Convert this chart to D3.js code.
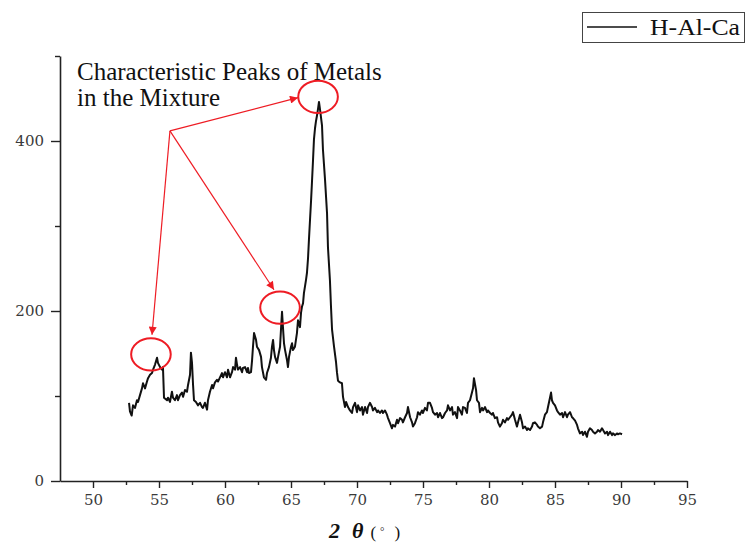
<!DOCTYPE html>
<html>
<head>
<meta charset="utf-8">
<script src="https://cdn.jsdelivr.net/npm/d3@7"></script>
<style>
  html, body { margin: 0; padding: 0; background: #fff; }
  svg { display: block; }
</style>
</head>
<body>
<svg id="chart" width="748" height="544"></svg>
<script>
// XRD pattern of the H-Al-Ca sample: diffraction angle 2θ (°) vs intensity
const seriesName = "H-Al-Ca";

const twoTheta = [
  52.73, 52.80, 52.93, 53.03, 53.18, 53.33, 53.41, 53.56, 53.71, 53.79, 53.94, 54.09, 54.17, 54.32, 54.47,
  54.55, 54.70, 54.85, 54.92, 55.08, 55.23, 55.30, 55.38, 55.61, 55.68, 55.83, 55.98, 56.06, 56.21, 56.36,
  56.44, 56.59, 56.74, 56.82, 56.97, 57.12, 57.20, 57.35, 57.42, 57.50, 57.58, 57.65, 57.80, 57.95, 58.11,
  58.26, 58.33, 58.48, 58.64, 58.71, 58.86, 59.02, 59.09, 59.24, 59.39, 59.47, 59.62, 59.77, 59.85, 60.00,
  60.15, 60.23, 60.38, 60.53, 60.61, 60.76, 60.83, 60.91, 60.98, 61.14, 61.29, 61.36, 61.52, 61.67, 61.74,
  61.82, 61.97, 62.05, 62.12, 62.20, 62.35, 62.42, 62.58, 62.73, 62.80, 62.95, 63.11, 63.18, 63.33, 63.48,
  63.56, 63.64, 63.71, 63.79, 63.94, 64.02, 64.17, 64.24, 64.32, 64.39, 64.47, 64.55, 64.70, 64.77, 64.85,
  65.00, 65.08, 65.15, 65.30, 65.45, 65.53, 65.68, 65.76, 65.83, 65.91, 65.98, 66.14, 66.21, 66.29, 66.36,
  66.44, 66.52, 66.59, 66.67, 66.74, 66.82, 66.89, 66.97, 67.05, 67.12, 67.20, 67.35, 67.42, 67.58, 67.73,
  67.80, 67.95, 68.03, 68.11, 68.26, 68.41, 68.48, 68.56, 68.71, 68.86, 68.94, 69.09, 69.17, 69.32, 69.47,
  69.62, 69.70, 69.85, 70.00, 70.08, 70.23, 70.38, 70.45, 70.61, 70.76, 70.83, 70.98, 71.14, 71.21, 71.36,
  71.52, 71.59, 71.74, 71.89, 71.97, 72.12, 72.27, 72.35, 72.50, 72.65, 72.73, 72.88, 73.03, 73.11, 73.26,
  73.41, 73.48, 73.64, 73.79, 73.86, 74.02, 74.17, 74.24, 74.39, 74.55, 74.62, 74.77, 74.92, 75.00, 75.15,
  75.30, 75.38, 75.53, 75.68, 75.76, 75.91, 76.06, 76.14, 76.29, 76.44, 76.52, 76.67, 76.82, 76.89, 77.05,
  77.20, 77.27, 77.42, 77.58, 77.65, 77.80, 77.95, 78.03, 78.18, 78.33, 78.41, 78.56, 78.71, 78.79, 78.86,
  79.02, 79.09, 79.24, 79.32, 79.47, 79.55, 79.70, 79.85, 79.92, 80.08, 80.23, 80.30, 80.45, 80.61, 80.68,
  80.83, 80.98, 81.06, 81.21, 81.36, 81.44, 81.59, 81.74, 81.82, 81.97, 82.12, 82.20, 82.35, 82.50, 82.58,
  82.73, 82.88, 82.95, 83.11, 83.26, 83.33, 83.48, 83.64, 83.71, 83.86, 84.02, 84.09, 84.24, 84.39, 84.47,
  84.62, 84.70, 84.77, 84.85, 85.00, 85.15, 85.23, 85.38, 85.53, 85.61, 85.76, 85.91, 85.98, 86.14, 86.29,
  86.36, 86.52, 86.67, 86.74, 86.89, 87.05, 87.12, 87.27, 87.42, 87.50, 87.65, 87.80, 87.88, 88.03, 88.18,
  88.26, 88.41, 88.56, 88.64, 88.79, 88.94, 89.02, 89.17, 89.32, 89.39, 89.55, 89.70, 89.77, 89.92, 90.08
];

const intensity = [
   92,  82,  77,  89,  86,  95,  93, 101, 109, 115, 109, 117, 121, 125, 127,
  131, 137, 145, 139, 134, 131, 134,  98,  95,  98,  93, 105,  98,  95, 101,
   95, 101, 104,  99, 107, 105, 113, 125, 151, 139, 113,  95,  93,  89,  92,
   87,  86,  92,  84,  95, 105, 113, 109, 116, 119, 117, 122, 127, 122, 128,
  122, 131, 122, 128, 134, 131, 145, 137, 131, 134, 128, 133, 134, 128, 133,
  127, 128, 142, 158, 174, 166, 158, 154, 146, 134, 122, 119, 127, 134, 145,
  158, 166, 154, 146, 139, 146, 158, 178, 199, 181, 162, 154, 142, 134, 146,
  158, 162, 154, 158, 174, 189, 181, 198, 205, 209, 221, 237, 245, 262, 284,
  307, 330, 352, 378, 402, 415, 423, 430, 438, 446, 437, 418, 390, 354, 315,
  275, 236, 205, 178, 158, 140, 128, 118, 116, 115,  99,  87,  93,  87,  83,
   80,  87,  92,  81,  89,  83,  87,  78,  87,  80,  87,  92,  87,  83,  86,
   81,  83,  80,  83,  80,  83,  78,  74,  68,  62,  66,  64,  72,  68,  74,
   72,  69,  75,  80,  87,  75,  69,  64,  68,  75,  81,  78,  83,  80,  86,
   83,  92,  92,  86,  81,  78,  80,  75,  80,  74,  75,  80,  83,  89,  83,
   87,  78,  81,  74,  87,  83,  78,  87,  86,  80,  92,  95, 104, 109, 121,
  107,  95,  92,  81,  86,  83,  87,  81,  83,  80,  78,  80,  74,  75,  69,
   64,  68,  72,  69,  74,  72,  75,  78,  81,  72,  64,  69,  78,  69,  62,
   64,  60,  62,  60,  64,  68,  69,  66,  64,  62,  64,  69,  78,  81,  87,
   98, 104,  95,  92,  89,  83,  81,  78,  80,  75,  81,  75,  78,  81,  75,
   74,  71,  66,  62,  56,  58,  54,  58,  52,  58,  62,  60,  58,  56,  58,
   60,  58,  62,  60,  56,  58,  54,  58,  54,  56,  54,  56,  55,  56,  55
];

// Axis ticks
const xMajorTicks = [50, 55, 60, 65, 70, 75, 80, 85, 90, 95];
const xMinorTicks = [52.5, 57.5, 62.5, 67.5, 72.5, 77.5, 82.5, 87.5, 92.5];
const yMajorTicks = [0, 200, 400];
const yMinorTicks = [100, 300, 500];

// Highlighted peaks (centre angle, centre intensity) and arrow tips
const peakMarks = [
  { angle: 54.39, value: 149 },
  { angle: 64.17, value: 204 },
  { angle: 67.05, value: 452 }
];
const arrowFrom = { angle: 55.83, value: 412 };
const arrowTips = [
  { angle: 54.47, value: 172 },
  { angle: 63.71, value: 225 },
  { angle: 65.53, value: 451 }
];
const noteLines = ["Characteristic Peaks of Metals", "in the Mixture"];

const svg = d3.select("#chart");
const x = d3.scaleLinear().domain([47.5, 95]).range([60, 687]);
const y = d3.scaleLinear().domain([0, 500]).range([481, 56]);

const tickFont = "'DejaVu Serif', serif";
const tickColor = "#3a3a3a";

// x axis: major ticks with labels, minor ticks without
const xAxisG = svg.append("g").attr("transform", `translate(0,${y(0)})`);
xAxisG.call(d3.axisBottom(x).tickValues(xMajorTicks).tickSize(7).tickSizeOuter(0).tickPadding(6).tickFormat(d3.format("d")));
xAxisG.append("g").call(d3.axisBottom(x).tickValues(xMinorTicks).tickSize(4).tickFormat(""))
  .select(".domain").remove();

// y axis
const yAxisG = svg.append("g").attr("transform", `translate(${x(47.5)},0)`);
yAxisG.call(d3.axisLeft(y).tickValues(yMajorTicks).tickSize(9).tickSizeOuter(0).tickPadding(7).tickFormat(d3.format("d")));
yAxisG.append("g").call(d3.axisLeft(y).tickValues(yMinorTicks).tickSize(5).tickFormat(""))
  .select(".domain").remove();

svg.selectAll(".domain").attr("stroke", "#222").attr("stroke-width", 1.6);
svg.selectAll(".tick line").attr("stroke", "#222").attr("stroke-width", 1.4);
svg.selectAll(".tick text")
  .attr("font-family", tickFont)
  .attr("font-size", 15)
  .attr("fill", tickColor);

// pattern trace
const points = twoTheta.map((a, i) => [a, intensity[i]]);
svg.append("path")
  .datum(points)
  .attr("fill", "none")
  .attr("stroke", "#111")
  .attr("stroke-width", 2)
  .attr("stroke-linejoin", "round")
  .attr("d", d3.line().x(d => x(d[0])).y(d => y(d[1])));

// annotation: arrows and peak circles
const red = "#ee1c24";
const defs = svg.append("defs");
defs.append("marker")
  .attr("id", "arrowhead")
  .attr("viewBox", "0 0 10 10")
  .attr("refX", 10).attr("refY", 5)
  .attr("markerWidth", 11).attr("markerHeight", 8)
  .attr("markerUnits", "userSpaceOnUse")
  .attr("orient", "auto")
  .append("path").attr("d", "M0,0 L10,5 L0,10 Z").attr("fill", red);

svg.append("g").selectAll("line")
  .data(arrowTips)
  .join("line")
  .attr("x1", x(arrowFrom.angle)).attr("y1", y(arrowFrom.value))
  .attr("x2", d => x(d.angle)).attr("y2", d => y(d.value))
  .attr("stroke", red).attr("stroke-width", 1.2)
  .attr("marker-end", "url(#arrowhead)");

const rxDeg = 1.5, ryCount = 19;
svg.append("g").selectAll("ellipse")
  .data(peakMarks)
  .join("ellipse")
  .attr("cx", d => x(d.angle)).attr("cy", d => y(d.value))
  .attr("rx", x(47.5 + rxDeg) - x(47.5))
  .attr("ry", y(0) - y(ryCount))
  .attr("fill", "none").attr("stroke", red).attr("stroke-width", 2);

svg.append("text")
  .attr("font-family", "'Liberation Serif', 'Times New Roman', serif")
  .attr("font-size", 25)
  .attr("fill", "#111")
  .selectAll("tspan")
  .data(noteLines)
  .join("tspan")
  .attr("x", 77)
  .attr("y", (d, i) => 80 + i * 26)
  .text(d => d);

// x axis title: 2θ(°)
const xTitle = svg.append("text")
  .attr("x", 329).attr("y", 538)
  .attr("font-family", "'Liberation Serif', 'DejaVu Serif', serif")
  .attr("fill", "#111");
xTitle.append("tspan").attr("font-size", 22).attr("font-style", "italic").attr("font-weight", "bold").text("2");
xTitle.append("tspan").attr("dx", 12).attr("font-size", 22).attr("font-style", "italic").attr("font-weight", "bold").text("θ");
xTitle.append("tspan").attr("dx", 7).attr("font-size", 17).text("(");
xTitle.append("tspan").attr("dx", 4).attr("font-size", 11).attr("dy", -3).text("°");
xTitle.append("tspan").attr("dx", 10).attr("font-size", 17).attr("dy", 3).text(")");

// legend
const legend = svg.append("g");
legend.append("rect")
  .attr("x", 582.5).attr("y", 12.5).attr("width", 162).attr("height", 30)
  .attr("fill", "#fff").attr("stroke", "#444").attr("stroke-width", 1);
legend.append("line")
  .attr("x1", 587).attr("x2", 637).attr("y1", 27).attr("y2", 27)
  .attr("stroke", "#111").attr("stroke-width", 1.5);
legend.append("text")
  .attr("x", 650).attr("y", 35)
  .attr("font-family", "'Liberation Serif', 'Times New Roman', serif")
  .attr("font-size", 23)
  .attr("textLength", 90)
  .attr("lengthAdjust", "spacingAndGlyphs")
  .attr("fill", "#111")
  .text(seriesName);
</script>
</body>
</html>
